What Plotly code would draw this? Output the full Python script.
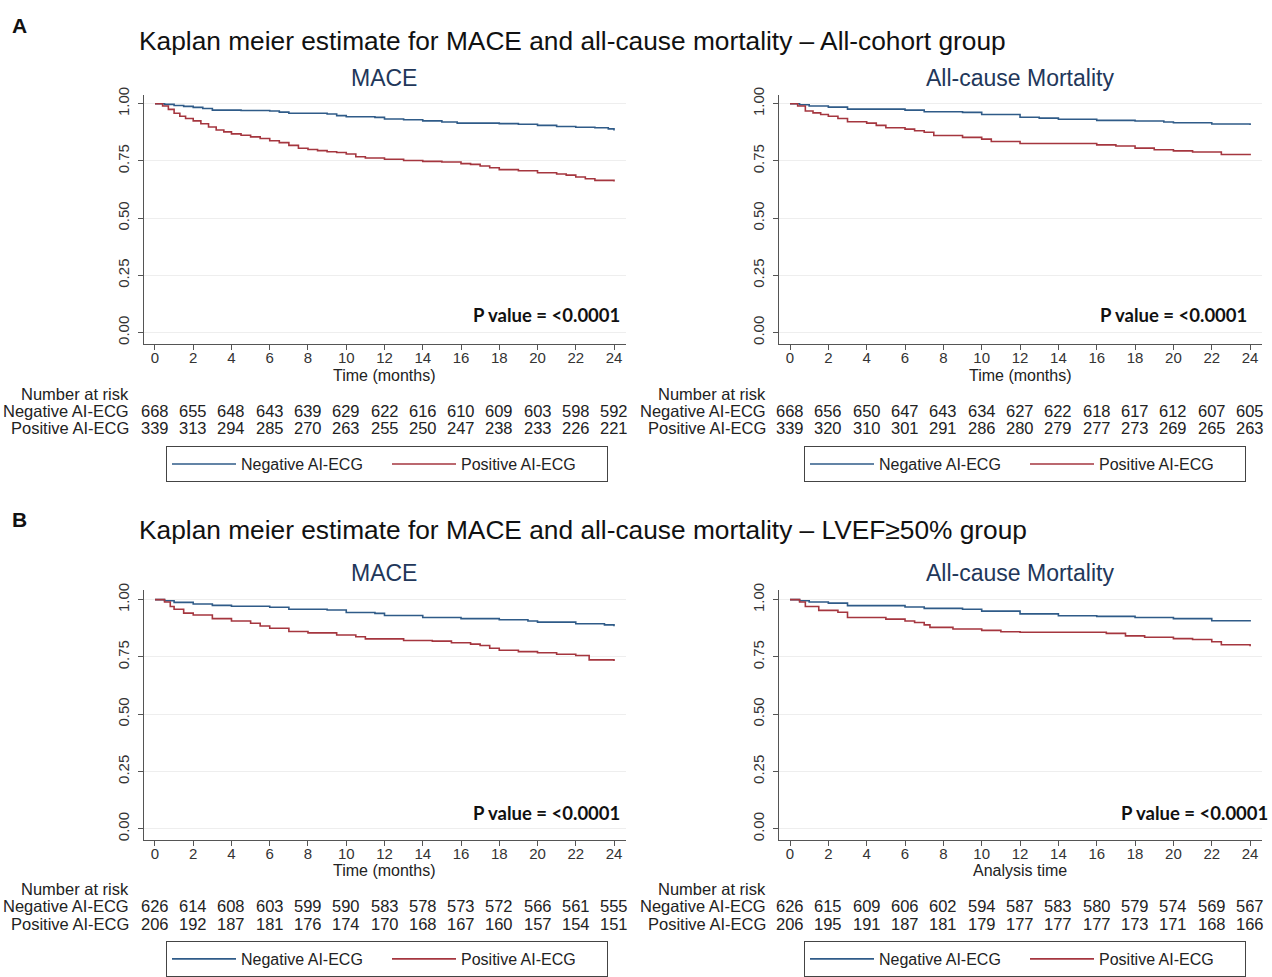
import plotly.graph_objects as go

# ---------------- data ----------------
risk_times = [0, 2, 4, 6, 8, 10, 12, 14, 16, 18, 20, 22, 24]

# A - All-cohort group, MACE
a_mace_neg_t = [0, 0.5, 1.0, 1.5, 2.0, 2.5, 3.0, 4.5, 6.0, 6.5, 7.0, 9.0, 9.5, 10.0, 11.5, 12.0, 13.0, 14.0, 15.0, 15.8, 18.0, 19.0, 20.0, 21.0, 22.0, 23.0, 23.7, 24.0]
a_mace_neg_s = [1.000, 0.997, 0.992, 0.988, 0.984, 0.979, 0.972, 0.970, 0.968, 0.963, 0.958, 0.955, 0.948, 0.943, 0.940, 0.933, 0.930, 0.925, 0.920, 0.915, 0.913, 0.910, 0.905, 0.900, 0.897, 0.895, 0.890, 0.883]
a_mace_pos_t = [0, 0.4, 0.7, 1.0, 1.3, 1.6, 2.0, 2.4, 2.8, 3.2, 3.6, 4.0, 4.5, 5.0, 5.5, 6.0, 6.5, 7.0, 7.5, 8.0, 8.5, 9.0, 9.5, 10.0, 10.5, 11.0, 12.0, 13.0, 14.0, 15.0, 16.0, 16.5, 17.0, 17.5, 18.0, 19.0, 20.0, 21.0, 21.5, 22.0, 22.5, 23.0, 24.0]
a_mace_pos_s = [1.000, 0.990, 0.975, 0.958, 0.945, 0.935, 0.925, 0.912, 0.898, 0.885, 0.877, 0.868, 0.862, 0.855, 0.848, 0.838, 0.830, 0.818, 0.805, 0.800, 0.795, 0.790, 0.787, 0.780, 0.768, 0.763, 0.757, 0.752, 0.748, 0.745, 0.738, 0.735, 0.728, 0.720, 0.712, 0.707, 0.698, 0.693, 0.688, 0.680, 0.672, 0.665, 0.660]
a_mace_risk_neg = [668, 655, 648, 643, 639, 629, 622, 616, 610, 609, 603, 598, 592]
a_mace_risk_pos = [339, 313, 294, 285, 270, 263, 255, 250, 247, 238, 233, 226, 221]

# A - All-cohort group, All-cause mortality
a_mort_neg_t = [0, 0.5, 1.0, 2.0, 3.0, 6.0, 7.0, 9.0, 10.0, 12.0, 13.0, 14.0, 16.0, 18.0, 19.5, 20.0, 22.0, 24.0]
a_mort_neg_s = [1.000, 0.995, 0.990, 0.985, 0.976, 0.972, 0.965, 0.962, 0.953, 0.941, 0.937, 0.932, 0.927, 0.924, 0.920, 0.917, 0.911, 0.907]
a_mort_pos_t = [0, 0.4, 0.8, 1.2, 1.6, 2.0, 2.5, 3.0, 4.0, 4.5, 5.0, 6.0, 6.5, 7.0, 7.5, 9.0, 10.0, 10.5, 12.0, 16.0, 17.0, 18.0, 19.0, 20.0, 21.0, 22.5, 24.0]
a_mort_pos_s = [1.000, 0.990, 0.968, 0.960, 0.953, 0.945, 0.935, 0.921, 0.915, 0.905, 0.895, 0.889, 0.882, 0.875, 0.861, 0.853, 0.845, 0.835, 0.826, 0.820, 0.815, 0.806, 0.799, 0.794, 0.789, 0.778, 0.775]
a_mort_risk_neg = [668, 656, 650, 647, 643, 634, 627, 622, 618, 617, 612, 607, 605]
a_mort_risk_pos = [339, 320, 310, 301, 291, 286, 280, 279, 277, 273, 269, 265, 263]

# B - LVEF>=50% group, MACE
b_mace_neg_t = [0, 0.5, 1.0, 2.0, 3.0, 4.0, 6.0, 7.0, 9.0, 10.0, 11.5, 12.0, 14.0, 16.0, 18.0, 19.5, 20.0, 22.0, 23.5, 24.0]
b_mace_neg_s = [1.000, 0.995, 0.988, 0.981, 0.975, 0.971, 0.967, 0.958, 0.955, 0.944, 0.940, 0.931, 0.922, 0.917, 0.912, 0.907, 0.902, 0.895, 0.890, 0.884]
b_mace_pos_t = [0, 0.5, 0.8, 1.0, 1.5, 2.0, 3.0, 4.0, 5.0, 5.5, 6.0, 7.0, 8.0, 9.5, 10.5, 11.0, 13.0, 14.5, 15.5, 16.5, 17.0, 17.5, 18.0, 19.0, 20.0, 21.0, 22.0, 22.7, 24.0]
b_mace_pos_s = [1.000, 0.990, 0.970, 0.958, 0.941, 0.933, 0.917, 0.907, 0.897, 0.885, 0.875, 0.861, 0.855, 0.846, 0.838, 0.829, 0.822, 0.819, 0.812, 0.806, 0.800, 0.788, 0.779, 0.773, 0.768, 0.762, 0.756, 0.737, 0.732]
b_mace_risk_neg = [626, 614, 608, 603, 599, 590, 583, 578, 573, 572, 566, 561, 555]
b_mace_risk_pos = [206, 192, 187, 181, 176, 174, 170, 168, 167, 160, 157, 154, 151]

# B - LVEF>=50% group, All-cause mortality
b_mort_neg_t = [0, 0.5, 1.0, 2.0, 3.0, 6.0, 7.0, 9.0, 10.0, 12.0, 14.0, 16.0, 18.0, 20.0, 22.0, 24.0]
b_mort_neg_s = [1.000, 0.995, 0.990, 0.985, 0.974, 0.968, 0.962, 0.958, 0.950, 0.938, 0.930, 0.927, 0.922, 0.917, 0.908, 0.905]
b_mort_pos_t = [0, 0.5, 0.8, 1.5, 2.5, 3.0, 5.0, 6.0, 6.5, 7.0, 7.3, 8.5, 10.0, 11.0, 12.0, 16.5, 17.5, 18.5, 20.0, 21.0, 22.0, 22.5, 24.0]
b_mort_pos_s = [1.000, 0.990, 0.970, 0.953, 0.945, 0.922, 0.915, 0.907, 0.900, 0.890, 0.879, 0.872, 0.866, 0.860, 0.858, 0.853, 0.842, 0.836, 0.830, 0.826, 0.816, 0.803, 0.797]
b_mort_risk_neg = [626, 615, 609, 606, 602, 594, 587, 583, 580, 579, 574, 569, 567]
b_mort_risk_pos = [206, 195, 191, 187, 181, 179, 177, 177, 177, 173, 171, 168, 166]

series_names = ["Negative AI-ECG", "Positive AI-ECG"]
panel_titles = ["MACE", "All-cause Mortality", "MACE", "All-cause Mortality"]
x_titles = ["Time (months)", "Time (months)", "Time (months)", "Analysis time"]
group_titles = ["Kaplan meier estimate for MACE and all-cause mortality \u2013 All-cohort group",
                "Kaplan meier estimate for MACE and all-cause mortality \u2013 LVEF\u226550% group"]
group_letters = ["A", "B"]
p_text = "P value = <0.0001"
y_ticks = [0, 0.25, 0.5, 0.75, 1.0]
y_ticklabels = ["0.00", "0.25", "0.50", "0.75", "1.00"]

# ---------------- styling / layout ----------------
W, H = 1272, 977
FONT = "Liberation Sans, Arial, Helvetica, sans-serif"
BLUE = "#2f5b88"
RED = "#a5363f"
NAVY = "#22375a"
AX = "#555555"

TOP_OFF, EFF_H = 4.0, 969.0


def fx(p):
    return p / W


def fy(p):
    return 1 - (p - TOP_OFF) / EFF_H


panels = [
    dict(ax="", xd=(143.5, 625.5), yd=(91.7, 344.6), ylab=131, yoff=0, leg="legend", legx=166,
         neg=(a_mace_neg_t, a_mace_neg_s), pos=(a_mace_pos_t, a_mace_pos_s),
         rn=a_mace_risk_neg, rp=a_mace_risk_pos, pv=(622, 315)),
    dict(ax="2", xd=(778.5, 1261.6), yd=(91.7, 344.6), ylab=768, yoff=0, leg="legend2", legx=804,
         neg=(a_mort_neg_t, a_mort_neg_s), pos=(a_mort_pos_t, a_mort_pos_s),
         rn=a_mort_risk_neg, rp=a_mort_risk_pos, pv=(1249, 315)),
    dict(ax="3", xd=(143.5, 625.5), yd=(594.4, 847.6), ylab=131, yoff=502, leg="legend3", legx=166,
         neg=(b_mace_neg_t, b_mace_neg_s), pos=(b_mace_pos_t, b_mace_pos_s),
         rn=b_mace_risk_neg, rp=b_mace_risk_pos, pv=(622, 820)),
    dict(ax="4", xd=(778.5, 1261.6), yd=(594.4, 847.6), ylab=768, yoff=502, leg="legend4", legx=804,
         neg=(b_mort_neg_t, b_mort_neg_s), pos=(b_mort_pos_t, b_mort_pos_s),
         rn=b_mort_risk_neg, rp=b_mort_risk_pos, pv=(1270, 820)),
]

fig = go.Figure()
annotations = []
layout_axes = {}

for i, p in enumerate(panels):
    xa = "x" + p["ax"]
    ya = "y" + p["ax"]
    for (t, s), name, col in [(p["neg"], series_names[0], BLUE), (p["pos"], series_names[1], RED)]:
        fig.add_trace(go.Scatter(x=t, y=s, mode="lines", line=dict(color=col, width=1.6, shape="hv"),
                                 name=name, xaxis=xa, yaxis=ya, legend=p["leg"], showlegend=True,
                                 hoverinfo="x+y+name"))
    layout_axes["xaxis" + p["ax"]] = dict(
        domain=[fx(p["xd"][0]), fx(p["xd"][1])], anchor=ya, range=[-0.6, 24.6],
        tickmode="array", tickvals=risk_times, ticks="outside", ticklen=5, tickcolor=AX,
        ticklabelstandoff=-5,
        showline=True, linecolor=AX, linewidth=1, showgrid=False, zeroline=False,
        tickfont=dict(family=FONT, size=15, color="#333"), fixedrange=True)
    layout_axes["yaxis" + p["ax"]] = dict(
        domain=[fy(p["yd"][1]), fy(p["yd"][0])], anchor=xa, range=[-0.05, 1.04],
        tickmode="array", tickvals=y_ticks, ticktext=y_ticklabels, tickangle=-90,
        ticks="outside", ticklen=5, tickcolor=AX, ticklabelstandoff=3,
        showline=True, linecolor=AX, linewidth=1, showgrid=True, gridcolor="#eeeeee", gridwidth=1,
        zeroline=False, tickfont=dict(family=FONT, size=15, color="#333"), fixedrange=True)

    cx = (p["xd"][0] + p["xd"][1]) / 2
    # panel title
    annotations.append(dict(text=panel_titles[i], x=fx(cx), y=fy(75 + p["yoff"]), xref="paper", yref="paper",
                            xanchor="center", yanchor="middle", showarrow=False,
                            font=dict(family=FONT, size=23, color=NAVY)))
    # x-axis title
    annotations.append(dict(text=x_titles[i], x=fx(cx), y=fy(376 + p["yoff"]), xref="paper", yref="paper",
                            xanchor="center", yanchor="middle", showarrow=False,
                            font=dict(family=FONT, size=16, color="#222")))
    # p value
    annotations.append(dict(text="<b>" + p_text + "</b>", x=fx(p["pv"][0]), y=fy(p["pv"][1]),
                            xref="paper", yref="paper",
                            xanchor="right", yanchor="middle", showarrow=False,
                            font=dict(family="Lato, Open Sans, sans-serif", size=18.5, color="#111")))
    # risk table
    annotations.append(dict(text="Number at risk", x=fx(p["ylab"]), y=fy(395 + p["yoff"]), xref="paper",
                            yref="paper", xanchor="right", yanchor="middle", showarrow=False,
                            font=dict(family=FONT, size=16.5, color="#222")))
    for row_y, name, vals in [(412, series_names[0], p["rn"]), (430, series_names[1], p["rp"])]:
        annotations.append(dict(text=name, x=fx(p["ylab"]), y=fy(row_y + p["yoff"]), xref="paper",
                                yref="paper", xanchor="right", yanchor="middle", showarrow=False,
                                font=dict(family=FONT, size=16.5, color="#222")))
        for t, v in zip(risk_times, vals):
            annotations.append(dict(text=str(v), x=t, y=fy(row_y + p["yoff"]), xref=xa, yref="paper",
                                    xanchor="center", yanchor="middle", showarrow=False,
                                    font=dict(family=FONT, size=16.5, color="#222")))
    # legend box
    layout_axes[p["leg"]] = dict(
        orientation="h", x=fx(p["legx"]), y=fy(448 + p["yoff"]), xanchor="left", yanchor="top",
        bordercolor="#444", borderwidth=1, bgcolor="white",
        font=dict(family=FONT, size=16, color="#222"),
        itemwidth=64, entrywidth=141, entrywidthmode="pixels", itemclick=False, itemdoubleclick=False)

# group titles and letters
for g in range(2):
    off = g * 496
    annotations.append(dict(text=group_titles[g], x=fx(137), y=fy(37 + off), xref="paper", yref="paper",
                            xanchor="left", yanchor="middle", showarrow=False,
                            font=dict(family=FONT, size=26.3, color="#111")))
    annotations.append(dict(text="<b>" + group_letters[g] + "</b>", x=fx(19), y=fy(22 + g * 500),
                            xref="paper", yref="paper", xanchor="center", yanchor="middle", showarrow=False,
                            font=dict(family=FONT, size=21, color="#111")))

fig.update_layout(
    width=W, height=H, margin=dict(l=0, r=0, t=0, b=0),
    paper_bgcolor="white", plot_bgcolor="white",
    annotations=annotations, **layout_axes,
)

page_css = (
    "document.documentElement.style.margin='0';"
    "document.body.style.margin='0';"
    "document.body.style.overflow='hidden';"
)

fig.write_html("out.html", config={"displayModeBar": False}, post_script=page_css)
